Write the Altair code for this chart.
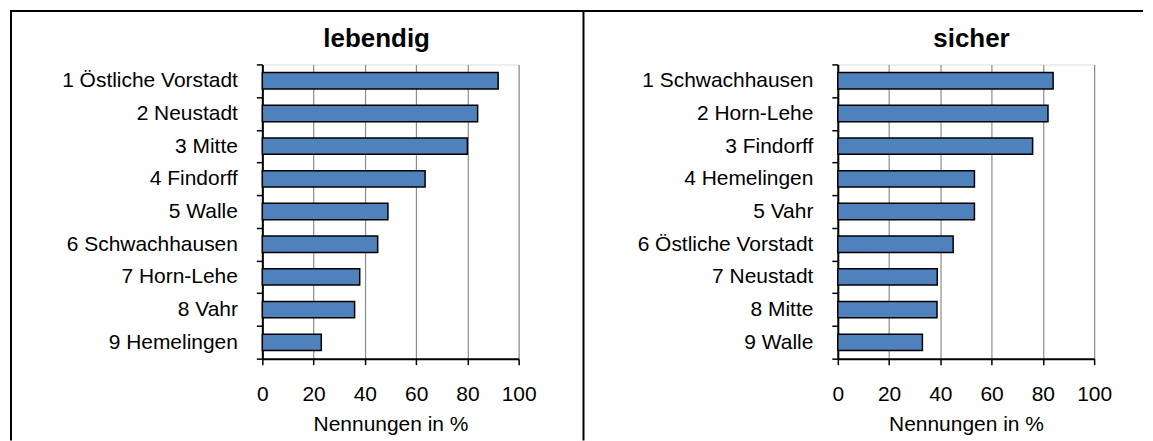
import altair as alt
import pandas as pd

TITLES = ["lebendig", "sicher"]
LEBENDIG_LABELS = ["1 Östliche Vorstadt", "2 Neustadt", "3 Mitte", "4 Findorff", "5 Walle",
                   "6 Schwachhausen", "7 Horn-Lehe", "8 Vahr", "9 Hemelingen"]
LEBENDIG_VALUES = [92, 84, 80, 63.5, 49, 45, 38, 36, 23]
SICHER_LABELS = ["1 Schwachhausen", "2 Horn-Lehe", "3 Findorff", "4 Hemelingen", "5 Vahr",
                 "6 Östliche Vorstadt", "7 Neustadt", "8 Mitte", "9 Walle"]
SICHER_VALUES = [84, 82, 76, 53.3, 53.3, 45, 38.8, 38.7, 33]
X_TICKS = [0, 20, 40, 60, 80, 100]
X_TITLE = "Nennungen in %"

FONT = "Liberation Sans"
W, H = 257, 295
BAR = "#4F81BD"


def panel(title, labels, values, title_x, with_frame):
    df = pd.DataFrame({"label": labels, "value": values})
    bars = alt.Chart(df).mark_bar(
        color=BAR, stroke="black", strokeWidth=1.5, height=alt.RelativeBandSize(0.5)
    ).encode(
        x=alt.X(
            "value:Q",
            scale=alt.Scale(domain=[0, 100], nice=False, zero=True),
            axis=alt.Axis(
                values=X_TICKS, title=X_TITLE, grid=True, gridColor="#8c8c8c", gridWidth=1.2,
                tickColor="black", tickSize=6, tickWidth=1.5, domainColor="black", domainWidth=2,
                labelFontSize=21, labelPadding=19, labelColor="black", labelFont=FONT,
                titleFontSize=21, titleFontWeight="normal", titlePadding=9, titleColor="black",
                titleFont=FONT, labelFlush=False,
            ),
        ),
        y=alt.Y(
            "label:N", sort=None,
            scale=alt.Scale(paddingInner=0, paddingOuter=0),
            axis=alt.Axis(
                title=None, tickBand="extent", tickSize=6, tickColor="black", tickWidth=1.5,
                domainColor="black", domainWidth=2, labelFontSize=21, labelPadding=19,
                labelColor="black", labelFont=FONT, labelLimit=400, grid=False,
            ),
        ),
    )
    ttl = alt.Chart(alt.Data(values=[{"t": title}])).mark_text(
        font=FONT, fontSize=26, fontWeight="bold", color="black", align="center", baseline="alphabetic"
    ).encode(text="t:N", x=alt.value(title_x), y=alt.value(-17))
    layers = [bars, ttl]
    if with_frame:
        one = alt.Data(values=[{"k": 1}])
        top = alt.Chart(one).mark_rule(color="black", strokeWidth=2).encode(
            x=alt.value(-253), x2=alt.value(883), y=alt.value(-53.5))
        left = alt.Chart(one).mark_rule(color="black", strokeWidth=2).encode(
            x=alt.value(-252), y=alt.value(-54.5), y2=alt.value(377))
        div = alt.Chart(one).mark_rule(color="black", strokeWidth=2).encode(
            x=alt.value(322), y=alt.value(-54.5), y2=alt.value(377))
        layers += [top, left, div]
    return alt.layer(*layers).properties(width=W, height=H)


left = panel(TITLES[0], LEBENDIG_LABELS, LEBENDIG_VALUES, 114.6, True)
right = panel(TITLES[1], SICHER_LABELS, SICHER_VALUES, 134, False)

chart = alt.hconcat(left, right, spacing=320, bounds="flush").properties(
    padding=0
).configure_view(stroke="black", strokeWidth=2).configure(background="white")

chart.save("out.html", embed_options={"renderer": "svg", "actions": False})
